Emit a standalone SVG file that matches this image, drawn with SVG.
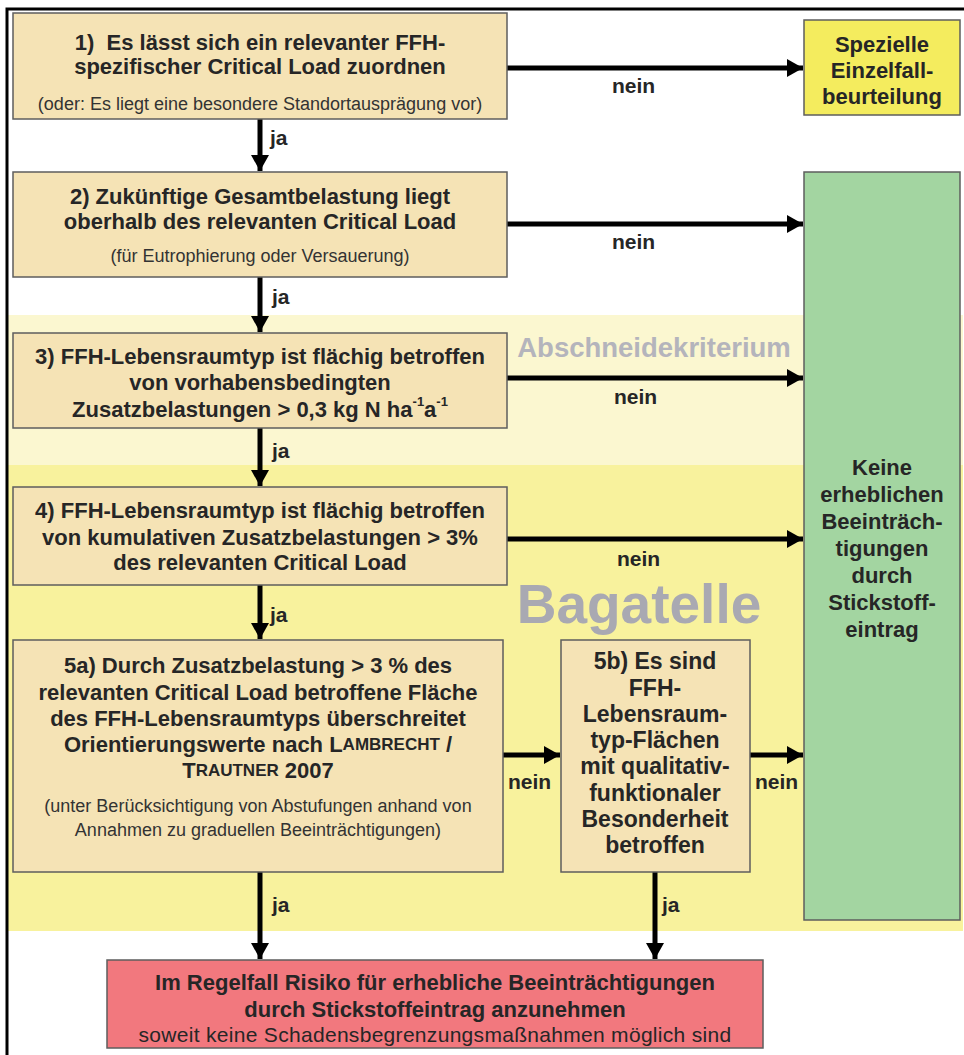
<svg xmlns="http://www.w3.org/2000/svg" width="964" height="1055" viewBox="0 0 964 1055">
<defs>
<marker id="ah" markerUnits="userSpaceOnUse" markerWidth="16" markerHeight="18" refX="16" refY="9" orient="auto">
<path d="M0,0 L16,9 L0,18 Z" fill="#000"/>
</marker>
<style>
.box{fill:#f5e3b5;stroke:#5e5e5e;stroke-width:1.5}
.t{font-family:"Liberation Sans",Arial,sans-serif;font-weight:bold;font-size:22px;fill:#262626;text-anchor:middle;dominant-baseline:central}
.tb{font-family:"Liberation Sans",Arial,sans-serif;font-weight:bold;font-size:23px;fill:#262626;text-anchor:middle;dominant-baseline:central}
.s{font-family:"Liberation Sans",Arial,sans-serif;font-size:18px;fill:#333;text-anchor:middle;dominant-baseline:central}
.r{font-family:"Liberation Sans",Arial,sans-serif;font-size:21px;letter-spacing:0.3px;fill:#262626;text-anchor:middle;dominant-baseline:central}
.lbl{font-family:"Liberation Sans",Arial,sans-serif;font-weight:bold;font-size:21px;fill:#262626;dominant-baseline:central}
.c{stroke:#000;stroke-width:5;fill:none;marker-end:url(#ah)}
.sc{font-size:17px}
.sup{font-size:13px}
</style>
</defs>
<rect width="964" height="1055" fill="#fff"/>
<!-- bands -->
<rect x="8" y="315" width="955" height="150" fill="#fbf7d0"/>
<rect x="8" y="465" width="955" height="466" fill="#f8f29d"/>
<text x="654" y="347" font-family="Liberation Sans,Arial,sans-serif" font-weight="bold" font-size="27.5" fill="#b4b4bc" text-anchor="middle" dominant-baseline="central">Abschneidekriterium</text>
<text x="639" y="604" font-family="Liberation Sans,Arial,sans-serif" font-weight="bold" font-size="55" fill="#a9a9b2" text-anchor="middle" dominant-baseline="central">Bagatelle</text>
<!-- frame -->
<path d="M7,1055 V9 H964" fill="none" stroke="#000" stroke-width="3"/>

<g id="connectors">
<path class="c" d="M507,68 H803"/>
<path class="c" d="M260,119 V171"/>
<path class="c" d="M507,224 H803"/>
<path class="c" d="M260,277 V332"/>
<path class="c" d="M507,378 H803"/>
<path class="c" d="M260,428 V486"/>
<path class="c" d="M507,539 H803"/>
<path class="c" d="M260,585 V639"/>
<path class="c" d="M503,755 H560"/>
<path class="c" d="M750,755 H803"/>
<path class="c" d="M260,872 V959"/>
<path class="c" d="M655,872 V959"/>
<text class="lbl" x="612" y="85">nein</text>
<text class="lbl" x="270" y="137">ja</text>
<text class="lbl" x="612" y="241">nein</text>
<text class="lbl" x="272" y="296">ja</text>
<text class="lbl" x="614" y="396">nein</text>
<text class="lbl" x="272" y="450">ja</text>
<text class="lbl" x="617" y="558">nein</text>
<text class="lbl" x="270" y="614">ja</text>
<text class="lbl" x="508" y="781">nein</text>
<text class="lbl" x="755" y="781">nein</text>
<text class="lbl" x="272" y="904">ja</text>
<text class="lbl" x="662" y="904">ja</text>
</g>

<g id="n1">
<rect class="box" x="13" y="13" width="494" height="106"/>
<text class="t" x="260" y="42">1)&#160; Es lässt sich ein relevanter FFH-</text>
<text class="t" x="260" y="66">spezifischer Critical Load zuordnen</text>
<text class="s" x="260" y="104">(oder: Es liegt eine besondere Standortausprägung vor)</text>
</g>

<g id="n_spez">
<rect x="804" y="20" width="156" height="95" fill="#f4ec5e" stroke="#5e5e5e" stroke-width="1.5"/>
<text class="t" x="882" y="44">Spezielle</text>
<text class="t" x="882" y="70">Einzelfall-</text>
<text class="t" x="882" y="96">beurteilung</text>
</g>

<g id="n2">
<rect class="box" x="13" y="172" width="494" height="105"/>
<text class="t" x="260" y="196">2) Zukünftige Gesamtbelastung liegt</text>
<text class="t" x="260" y="221">oberhalb des relevanten Critical Load</text>
<text class="s" x="260" y="256">(für Eutrophierung oder Versauerung)</text>
</g>

<g id="n_keine">
<rect x="804" y="172" width="156" height="748" fill="#a3d5a1" stroke="#5e5e5e" stroke-width="1.5"/>
<text class="t" x="882" y="467">Keine</text>
<text class="t" x="882" y="494">erheblichen</text>
<text class="t" x="882" y="521">Beeinträch-</text>
<text class="t" x="882" y="548">tigungen</text>
<text class="t" x="882" y="575">durch</text>
<text class="t" x="882" y="602">Stickstoff-</text>
<text class="t" x="882" y="629">eintrag</text>
</g>

<g id="n3">
<rect class="box" x="13" y="333" width="494" height="95"/>
<text class="t" x="260" y="356">3) FFH-Lebensraumtyp ist flächig betroffen</text>
<text class="t" x="260" y="382">von vorhabensbedingten</text>
<text class="t" x="260" y="409">Zusatzbelastungen &gt; 0,3 kg N ha<tspan class="sup" dy="-8">-1</tspan><tspan dy="8">a</tspan><tspan class="sup" dy="-8">-1</tspan></text>
</g>

<g id="n4">
<rect class="box" x="13" y="487" width="494" height="98"/>
<text class="t" x="260" y="510">4) FFH-Lebensraumtyp ist flächig betroffen</text>
<text class="t" x="260" y="537">von kumulativen Zusatzbelastungen &gt; 3%</text>
<text class="t" x="260" y="562">des relevanten Critical Load</text>
</g>

<g id="n5a">
<rect class="box" x="13" y="640" width="490" height="232"/>
<text class="t" x="258" y="665">5a) Durch Zusatzbelastung &gt; 3 % des</text>
<text class="t" x="258" y="692">relevanten Critical Load betroffene Fläche</text>
<text class="t" x="258" y="718">des FFH-Lebensraumtyps überschreitet</text>
<text class="t" x="258" y="744">Orientierungswerte nach L<tspan class="sc">AMBRECHT</tspan> /</text>
<text class="t" x="258" y="770">T<tspan class="sc">RAUTNER</tspan> 2007</text>
<text class="s" x="258" y="806">(unter Berücksichtigung von Abstufungen anhand von</text>
<text class="s" x="258" y="830">Annahmen zu graduellen Beeinträchtigungen)</text>
</g>

<g id="n5b">
<rect class="box" x="561" y="640" width="189" height="232"/>
<text class="tb" x="655" y="661">5b) Es sind</text>
<text class="tb" x="655" y="688">FFH-</text>
<text class="tb" x="655" y="714">Lebensraum-</text>
<text class="tb" x="655" y="740">typ-Flächen</text>
<text class="tb" x="655" y="766">mit qualitativ-</text>
<text class="tb" x="655" y="793">funktionaler</text>
<text class="tb" x="655" y="819">Besonderheit</text>
<text class="tb" x="655" y="845">betroffen</text>
</g>

<g id="n_risk">
<rect x="107" y="960" width="656" height="88" fill="#f2787e" stroke="#5e5e5e" stroke-width="1.5"/>
<text class="t" x="435" y="982">Im Regelfall Risiko für erhebliche Beeinträchtigungen</text>
<text class="t" x="435" y="1009">durch Stickstoffeintrag anzunehmen</text>
<text class="r" x="435" y="1034">soweit keine Schadensbegrenzungsmaßnahmen möglich sind</text>
</g>
</svg>
